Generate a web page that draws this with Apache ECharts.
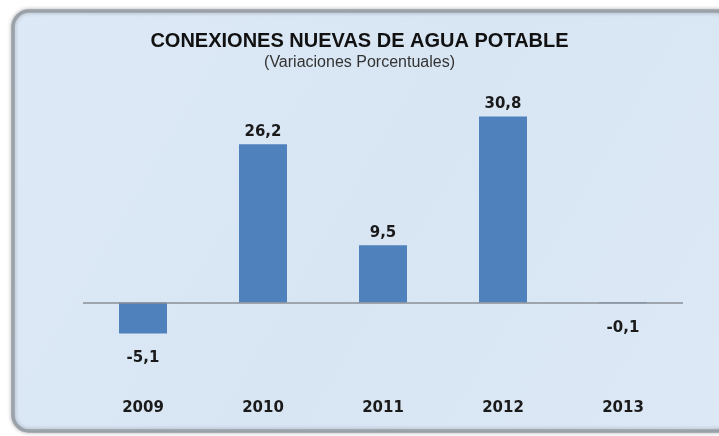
<!DOCTYPE html>
<html>
<head>
<meta charset="utf-8">
<script src="https://cdn.jsdelivr.net/npm/echarts@6/dist/echarts.min.js"></script>
<style>
html,body{margin:0;padding:0;background:#ffffff;}
#chart{width:719px;height:436px;}
</style>
</head>
<body>
<div id="chart"></div>
<script>
var categories = ['2009', '2010', '2011', '2012', '2013'];
var values = [-5.1, 26.2, 9.5, 30.8, -0.1];
var titleText = 'CONEXIONES NUEVAS DE AGUA POTABLE';
var subtitleText = '(Variaciones Porcentuales)';

var chart = echarts.init(document.getElementById('chart'));
function fmt(v){ return String(v.toFixed(1)).replace('.', ','); }

var option = {
  backgroundColor: '#ffffff',
  animation: false,
  graphic: [{
    type: 'rect',
    z: -10,
    shape: {x: 13, y: 11, width: 720, height: 420, r: 16},
    style: {
      fill: new echarts.graphic.LinearGradient(0, 0, 1, 1, [
        {offset: 0, color: '#dde9f6'},
        {offset: 0.5, color: '#d8e5f3'},
        {offset: 1, color: '#dce8f5'}
      ]),
      stroke: '#9ba1a9',
      lineWidth: 3.5,
      shadowBlur: 4,
      shadowColor: 'rgba(0,0,0,0.25)'
    }
  }],
  title: {
    text: titleText,
    subtext: subtitleText,
    left: 'center',
    top: 26,
    itemGap: 4,
    textStyle: {fontFamily: 'Liberation Sans, Arial', fontWeight: 'bold', fontSize: 20, color: '#111111'},
    subtextStyle: {fontFamily: 'Liberation Sans, Arial', fontSize: 16, color: '#333333'}
  },
  grid: {left: 83, right: 36, top: 91, height: 272},
  xAxis: {
    type: 'category',
    data: categories,
    axisLine: {show: false, onZero: false},
    axisTick: {show: false},
    axisLabel: {
      margin: 38,
      fontFamily: 'DejaVu Sans, Liberation Sans',
      fontWeight: 'bold',
      fontSize: 15,
      color: '#1a1a1a'
    }
  },
  yAxis: {
    type: 'value',
    min: -10,
    max: 35,
    interval: 5,
    show: false,
    splitLine: {show: false}
  },
  series: [{
    type: 'bar',
    data: values.map(function(v){
      return {
        value: v,
        label: {
          show: true,
          position: v >= 0 ? 'top' : 'bottom',
          distance: v >= 0 ? 5 : 17,
          formatter: function(p){ return fmt(p.value); },
          fontFamily: 'DejaVu Sans, Liberation Sans',
          fontWeight: 'bold',
          fontSize: 15,
          color: '#1a1a1a'
        }
      };
    }),
    barWidth: 48,
    itemStyle: {color: '#4f81bd'},
    markLine: {
      silent: true,
      symbol: ['none', 'none'],
      label: {show: false},
      lineStyle: {color: '#8a8f96', width: 1.5, type: 'solid'},
      data: [{yAxis: 0}]
    }
  }]
};
chart.setOption(option);
</script>
</body>
</html>
